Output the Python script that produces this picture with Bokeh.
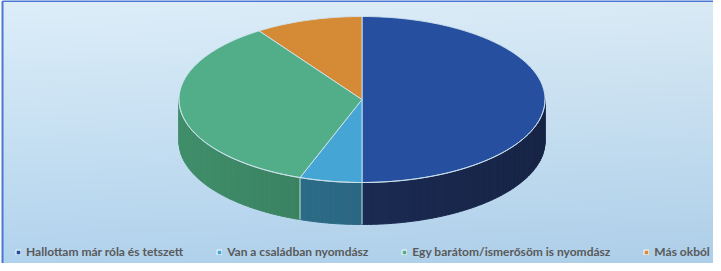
import numpy as np
from bokeh.plotting import figure
from bokeh.models import Range1d, Legend, LegendItem
from bokeh.embed import file_html
from bokeh.resources import INLINE

# ---- data ----
categories = ["Hallottam már róla és tetszett", "Van a családban nyomdász",
              "Egy barátom/ismerősöm is nyomdász", "Más okból"]
values = [50.0, 5.5, 35.0, 9.5]

# ---- styles ----
top_colors = ["#264fa0", "#45a5d5", "#52ae89", "#d58a36"]
side_colors = ["#1c2d57", "#2d6d89", "#3b8462", "#9a5f22"]
edge_color = "#cfe4f0"

W, H = 713, 263
cx, cy, rx, ry, depth = 361.5, 164.0, 183.0, 83.0, 42.0

p = figure(width=W, height=H, x_range=Range1d(0, W), y_range=Range1d(0, H),
           output_backend="svg", toolbar_location=None, min_border=0)
p.axis.visible = False
p.grid.visible = False
p.outline_line_color = None
p.background_fill_color = "white"
p.border_fill_color = "white"

# background gradient
nx, ny = 200, 100
yy, xx = np.mgrid[0:ny, 0:nx]
fy = yy / (ny - 1)          # 0 bottom -> 1 top
fx = xx / (nx - 1)
top_c = np.array([221, 238, 249])
bot_c = np.array([178, 211, 237])
img = np.zeros((ny, nx), dtype=np.uint32)
view = img.view(dtype=np.uint8).reshape((ny, nx, 4))
for k in range(3):
    ch = bot_c[k] + (top_c[k] - bot_c[k]) * fy - 4 * fx
    view[:, :, k] = np.clip(ch, 0, 255).astype(np.uint8)
view[:, :, 3] = 255
p.image_rgba(image=[img], x=2, y=0, dw=W - 2, dh=H - 1)

# border (left and top)
p.line(x=[2, 2], y=[0, H - 0.5], line_color="#4a76d4", line_width=2)
p.line(x=[2, W], y=[H - 0.5, H - 0.5], line_color="#4a76d4", line_width=2)


def hex2rgb(h):
    h = h.lstrip("#")
    return np.array([int(h[i:i + 2], 16) for i in (0, 2, 4)], dtype=float)


def rgb2hex(c):
    c = np.clip(np.round(c), 0, 255).astype(int)
    return "#%02x%02x%02x" % tuple(c)


def ex(t):
    return cx + rx * np.sin(np.radians(t))


def ey(t):
    return cy + ry * np.cos(np.radians(t))


total = float(sum(values))
angles = np.concatenate([[0.0], np.cumsum(values) / total * 360.0])

# ---- outer wall (front half only) ----
wx, wy, wc = [], [], []
for i in range(len(values)):
    a0, a1 = max(angles[i], 90.0), min(angles[i + 1], 270.0)
    if a1 <= a0:
        continue
    n = max(2, int(np.ceil((a1 - a0) / 1.5)))
    edges = np.linspace(a0, a1, n + 1)
    base = hex2rgb(side_colors[i])
    for s0, s1 in zip(edges[:-1], edges[1:]):
        ts = np.linspace(s0, s1, 4)
        xs = list(ex(ts)) + list(ex(ts[::-1]))
        ys = list(ey(ts)) + list(ey(ts[::-1]) - depth)
        sx = np.sin(np.radians((s0 + s1) / 2))
        f = 0.94 - 0.14 * sx
        col = rgb2hex(base * f)
        wx.append(xs)
        wy.append(ys)
        wc.append(col)
p.patches(xs=wx, ys=wy, fill_color=wc, line_color=wc, line_width=1)

# ---- top face ----
tx, ty = [], []
for i in range(len(values)):
    ts = np.linspace(angles[i], angles[i + 1], max(3, int((angles[i + 1] - angles[i]) / 1.0)))
    tx.append([cx] + list(ex(ts)))
    ty.append([cy] + list(ey(ts)))
p.patches(xs=tx, ys=ty, fill_color=top_colors, line_color=edge_color,
          line_width=1, line_alpha=0.9)

# front top edge and wall seams
tf = np.linspace(90, 270, 200)
p.line(x=ex(tf), y=ey(tf), line_color=edge_color, line_width=1, line_alpha=0.9)
for b in angles[1:-1]:
    if 90 < b < 270:
        p.line(x=[ex(b), ex(b)], y=[ey(b), ey(b) - depth],
               line_color=edge_color, line_width=1, line_alpha=0.9)

# ---- legend ----
items = []
for cat, col in zip(categories, top_colors):
    # legend-only glyph, placed outside the visible range
    r = p.quad(left=[-50], right=[-40], top=[-40], bottom=[-50], fill_color=col,
               line_color="white", line_width=1)
    items.append(LegendItem(label=cat, renderers=[r]))

legend = Legend(items=items, orientation="horizontal", location=(15, 4),
                spacing=33, glyph_width=6, glyph_height=6, label_standoff=5,
                label_text_font="Lato", label_text_font_size="12px",
                label_text_font_style="bold", label_text_color="#595959",
                padding=0, margin=0, border_line_alpha=0,
                background_fill_alpha=0, label_height=12,
                label_text_baseline="middle")
p.add_layout(legend, "center")

open("out.html", "w").write(file_html(p, INLINE))
